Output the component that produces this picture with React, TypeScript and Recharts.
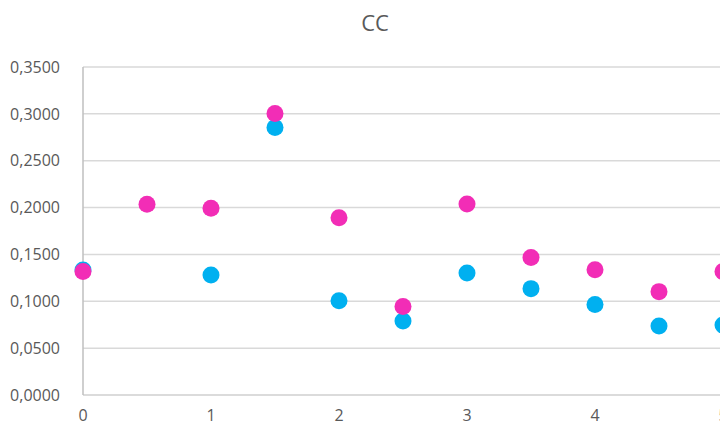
import React from "react";
import { ScatterChart, Scatter, XAxis, YAxis, CartesianGrid } from "recharts";

// x positions shared by both series
const xs = [0, 0.5, 1, 1.5, 2, 2.5, 3, 3.5, 4, 4.5, 5];

// blue series has no value at 0.5
const blueValues = [0.1334, null, 0.128, 0.2855, 0.1005, 0.079, 0.1303, 0.1135, 0.0965, 0.0737, 0.0748];
const pinkValues = [0.1318, 0.2035, 0.1992, 0.3005, 0.1892, 0.0945, 0.2038, 0.1467, 0.1337, 0.1103, 0.1318];

const yTicks = [0, 0.05, 0.1, 0.15, 0.2, 0.25, 0.3, 0.35];
const xTicks = [0, 1, 2, 3, 4, 5];

const BLUE = "#00B0F0";
const PINK = "#F22DB6";
const FONT = "'Open Sans', sans-serif";

const toPoints = (vals: (number | null)[]) =>
  xs
    .map((x, i) => ({ x, y: vals[i] }))
    .filter((p) => p.y !== null) as { x: number; y: number }[];

const blueData = toPoints(blueValues);
const pinkData = toPoints(pinkValues);

const fmt = (v: number) => v.toFixed(4).replace(".", ",");

const dot = (color: string) => (props: any) =>
  <circle cx={props.cx} cy={props.cy} r={8.5} fill={color} />;

export default function App() {
  return (
    <div
      style={{
        position: "absolute",
        left: 0,
        top: 0,
        width: 720,
        height: 426,
        overflow: "hidden",
        background: "#fff",
        fontFamily: FONT,
      }}
    >
      <div
        style={{
          position: "absolute",
          left: 0,
          top: 7,
          width: 750,
          textAlign: "center",
          fontSize: 22,
          color: "#595959",
        }}
      >
        CC
      </div>
      <ScatterChart
        width={740}
        height={426}
        margin={{ top: 67, right: 17, bottom: 0, left: 0 }}
      >
        <CartesianGrid horizontal vertical={false} stroke="#D9D9D9" strokeWidth={1.5} />
        <XAxis
          type="number"
          dataKey="x"
          domain={[0, 5]}
          ticks={xTicks}
          height={31}
          tickLine={false}
          axisLine={{ stroke: "#D9D9D9", strokeWidth: 1.5 }}
          tickMargin={9}
          tick={{ fill: "#595959", fontSize: 16, fontFamily: FONT }}
        />
        <YAxis
          type="number"
          dataKey="y"
          domain={[0, 0.35]}
          ticks={yTicks}
          width={83}
          tickLine={false}
          axisLine={{ stroke: "#BFBFBF", strokeWidth: 1.5 }}
          tickMargin={17}
          tickFormatter={fmt}
          tick={{ fill: "#595959", fontSize: 16, fontFamily: FONT }}
        />
        <Scatter data={blueData} fill={BLUE} shape={dot(BLUE)} isAnimationActive={false} />
        <Scatter data={pinkData} fill={PINK} shape={dot(PINK)} isAnimationActive={false} />
      </ScatterChart>
    </div>
  );
}
